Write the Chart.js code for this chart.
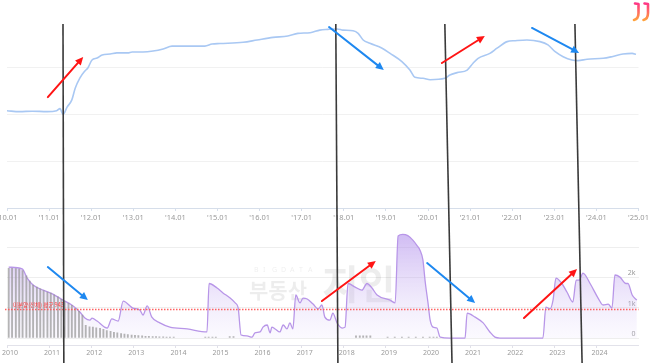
<!DOCTYPE html>
<html><head><meta charset="utf-8">
<script src="https://cdn.jsdelivr.net/npm/chart.js@4"></script>
<style>
html,body{margin:0;padding:0;background:#fff;overflow:hidden}
#wrap{position:relative;width:650px;height:363px}
#top{position:absolute;left:0;top:0}
#bot{position:absolute;left:0;top:230px}
#ov{position:absolute;left:0;top:0;pointer-events:none}
</style></head><body>
<div id="wrap">
<canvas id="top" width="650" height="230"></canvas>
<canvas id="bot" width="650" height="133"></canvas>
<canvas id="ov" width="650" height="363"></canvas>
</div>
<script>
// ---- top chart: price index (line) ----
const priceYears = [2010.00,2010.30,2010.60,2010.95,2011.18,2011.26,2011.33,2011.43,2011.54,2011.62,2011.73,2011.85,2011.92,2012.02,2012.14,2012.26,2012.45,2012.61,2012.87,2012.97,2013.23,2013.47,2013.71,2013.92,2014.28,2014.70,2014.87,2015.06,2015.61,2015.94,2016.32,2016.67,2016.91,2017.20,2017.43,2017.62,2017.84,2017.98,2018.22,2018.34,2018.46,2018.62,2018.91,2019.10,2019.38,2019.57,2019.69,2019.88,2020.05,2020.40,2020.52,2020.69,2020.93,2021.07,2021.19,2021.47,2021.64,2021.88,2022.07,2022.35,2022.66,2022.85,2023.02,2023.21,2023.42,2023.56,2023.78,2024.16,2024.37,2024.63,2024.85,2024.94];
const priceIndex = [81.4,81.0,81.2,81.0,81.4,82.3,79.8,83.0,86.0,91.0,95.3,98.3,99.6,103.0,103.8,105.1,105.5,106.0,106.0,106.4,106.4,106.8,107.7,108.9,108.9,108.9,109.8,110.0,110.5,111.5,112.6,113.2,114.3,114.6,115.7,116.0,116.2,115.7,115.4,114.3,111.5,110.1,108.0,105.8,102.3,98.7,95.6,95.2,94.6,95.2,96.6,97.6,98.7,101.6,103.7,105.8,108.0,110.8,111.2,111.5,110.8,109.4,106.5,104.4,103.0,102.7,103.3,103.7,104.4,105.5,105.8,105.4];
const topTickYears = [2010,2011,2012,2013,2014,2015,2016,2017,2018,2019,2020,2021,2022,2023,2024,2025];
const topTickLabels = ["'10.01","'11.01","'12.01","'13.01","'14.01","'15.01","'16.01","'17.01","'18.01","'19.01","'20.01","'21.01","'22.01","'23.01","'24.01","'25.01"];
const topGridValues = [60,80,100];

// ---- bottom chart: unsold housing ----
const unsoldYears = [2010.04,2010.36,2010.48,2010.62,2010.86,2011.09,2011.33,2011.54,2011.73,2011.85,2011.97,2012.02,2012.14,2012.38,2012.49,2012.64,2012.76,2012.99,2013.16,2013.23,2013.33,2013.44,2013.63,2013.87,2014.28,2014.75,2014.80,2014.99,2015.13,2015.30,2015.42,2015.49,2015.56,2015.70,2015.82,2015.89,2016.01,2016.08,2016.18,2016.25,2016.29,2016.37,2016.48,2016.56,2016.65,2016.72,2016.79,2016.86,2016.96,2017.03,2017.13,2017.27,2017.39,2017.48,2017.55,2017.67,2017.74,2017.84,2017.96,2018.03,2018.10,2018.27,2018.43,2018.55,2018.67,2018.79,2019.10,2019.22,2019.29,2019.40,2019.52,2019.64,2019.74,2019.81,2019.88,2019.93,2020.00,2020.05,2020.12,2020.21,2020.29,2020.52,2020.76,2020.88,2020.93,2021.12,2021.31,2021.47,2021.59,2021.71,2022.73,2022.80,2022.90,2022.97,2023.04,2023.18,2023.30,2023.44,2023.52,2023.59,2023.68,2023.85,2024.04,2024.16,2024.28,2024.37,2024.44,2024.56,2024.70,2024.75,2024.85,2024.96];
const unsoldCount = [2340,2280,1980,1750,1580,1450,1250,1090,860,660,590,660,560,330,630,560,1220,990,920,760,1060,690,500,360,300,200,1800,1650,1490,1320,1160,1000,100,70,30,170,200,360,430,170,360,300,200,430,300,500,300,1420,1160,1320,1290,1120,960,1090,690,590,820,500,330,360,1800,1680,1580,1800,1650,1420,1250,1160,3370,3420,3380,3230,3050,2900,2570,1900,1160,600,360,330,30,0,0,0,820,690,500,200,30,0,0,1020,960,1250,1980,1800,1520,1190,1910,1910,2140,1800,1320,1090,1120,990,2080,2010,1800,1800,1420,1250];
const completedYears = [2010.04,2010.12,2010.21,2010.29,2010.37,2010.46,2010.54,2010.62,2010.71,2010.79,2010.87,2010.96,2011.04,2011.12,2011.21,2011.29,2011.37,2011.46,2011.54,2011.62,2011.71,2011.79,2011.87,2011.96,2012.04,2012.12,2012.21,2012.29,2012.37,2012.46,2012.54,2012.62,2012.71,2012.79,2012.87,2012.96,2013.04,2013.12,2013.21,2013.29,2013.37,2013.46,2013.54,2013.62,2013.71,2013.79,2013.87,2013.96,2014.71,2014.79,2014.88,2014.96,2015.29,2015.38,2018.29,2018.38,2018.46,2018.54,2018.63,2019.04,2019.21,2019.38,2019.54,2019.71,2019.88,2020.04,2020.13,2020.21];
const completedCount = [2300,2300,2290,2280,2230,2050,1880,1750,1680,1620,1570,1520,1480,1430,1360,1280,1200,1150,1080,980,880,760,420,370,360,340,320,290,250,220,190,170,150,130,110,100,90,80,70,60,55,50,45,40,40,35,35,30,30,30,30,30,50,50,70,70,70,70,70,30,30,30,30,30,30,30,30,30];
const bottomTickYears = [2010,2011,2012,2013,2014,2015,2016,2017,2018,2019,2020,2021,2022,2023,2024];
const bottomTickLabels = ["2010","2011","2012","2013","2014","2015","2016","2017","2018","2019","2020","2021","2022","2023","2024"];
const yTickValues = [0,1000,2000,3000];
const yTickLabels = ["0","1k","2k",""];
const unsoldAverage = 943;
const averageLabel = "미분양(전체) 평균 943";

// ---- hand-drawn annotations (in data units) ----
const markerYearsTop = [2011.33,2017.81,2020.40,2023.49];
const markerYearsBottom = [2011.35,2017.86,2020.57,2023.66];
const markerTopValue = 118.3;
const topArrows = [
  {from:[2010.97,87.2], to:[2011.81,104.3], color:'#ff1414'},
  {from:[2017.65,117.0], to:[2018.95,98.7], color:'#1e88f0'},
  {from:[2020.33,101.7], to:[2021.35,113.2], color:'#ff1414'},
  {from:[2022.47,116.6], to:[2023.59,106.0], color:'#1e88f0'}
];
const bottomArrows = [
  {from:[2010.97,2343], to:[2011.92,1254], color:'#1e88f0'},
  {from:[2017.48,1221], to:[2018.76,2541], color:'#ff1414'},
  {from:[2019.98,2475], to:[2021.12,1155], color:'#1e88f0'},
  {from:[2022.28,660], to:[2023.54,2277], color:'#ff1414'}
];

Chart.defaults.font.family = "'Noto Sans', 'Noto Sans CJK KR', sans-serif";

const topChart = new Chart(document.getElementById('top'), {
  type:'line',
  data:{datasets:[{
    data: priceYears.map((x,i)=>({x, y:priceIndex[i]})),
    borderColor:'#a9c8f3', borderWidth:1.6, pointRadius:0, fill:false,
    cubicInterpolationMode:'monotone'
  }]},
  options:{
    responsive:false, animation:false, events:[],
    layout:{padding:{top:20,left:7,right:11.5,bottom:0}},
    plugins:{legend:{display:false},tooltip:{enabled:false}},
    scales:{
      x:{type:'linear', min:2010, max:2025, offset:false,
        afterBuildTicks:a=>{a.ticks = topTickYears.map(v=>({value:v}));},
        afterFit:a=>{a.height=22; a.paddingLeft=0; a.paddingRight=0;},
        ticks:{autoSkip:false, maxRotation:0, callback:(v,i)=>topTickLabels[i], font:{size:7.5}, color:'#9a9a9a', padding:2},
        grid:{drawOnChartArea:false, drawTicks:true, tickLength:3, color:'#d6deea', offset:false},
        border:{color:'#d6deea'}},
      y:{min:40, max:120,
        afterBuildTicks:a=>{a.ticks = topGridValues.map(v=>({value:v}));},
        afterFit:a=>{a.width=0;},
        ticks:{display:false},
        grid:{color:'#f1f1f1', drawTicks:false},
        border:{display:false}}
    }
  }
});

const watermark = {
  id:'watermark',
  beforeDatasetsDraw(chart){
    const c = chart.ctx, a = chart.chartArea;
    c.save();
    c.fillStyle = 'rgba(0,0,0,0.07)';
    c.font = "7px 'Noto Sans'";
    c.textBaseline = 'middle';
    const letters = 'BIGDATA';
    for (let i=0;i<letters.length;i++) c.fillText(letters[i], 254 + i*9, a.top + 38);
    c.font = "bold 21px 'Noto Sans CJK KR'";
    c.fillText('부동산', 249, a.top + 58);
    c.font = "bold 40px 'Noto Sans CJK KR'";
    c.fillText('지인', 322, a.top + 52);
    c.restore();
  }
};

const avgLine = {
  id:'avgLine',
  afterDatasetsDraw(chart){
    const c = chart.ctx, a = chart.chartArea;
    const y = Math.round(chart.scales.y.getPixelForValue(unsoldAverage)) + 0.5;
    c.save();
    c.strokeStyle = 'rgba(255,90,90,0.95)';
    c.lineWidth = 1.5;
    c.setLineDash([1.5,1.5]);
    c.beginPath(); c.moveTo(a.left-2, y); c.lineTo(a.right, y); c.stroke();
    c.setLineDash([]);
    c.fillStyle = '#ff4040';
    c.font = "5.5px 'Noto Sans CJK KR'";
    c.textBaseline = 'middle';
    c.fillText(averageLabel, a.left + 6, y - 5);
    c.restore();
  }
};

const botChart = new Chart(document.getElementById('bot'), {
  type:'line',
  data:{datasets:[
    {type:'bar', data: completedYears.map((x,i)=>({x, y:completedCount[i]})),
      backgroundColor:'rgba(150,150,150,0.7)', barThickness:1.2, order:1},
    {type:'line', data: unsoldYears.map((x,i)=>({x, y:unsoldCount[i]})),
      borderColor:'#b896e8', borderWidth:1.3, pointRadius:0, fill:'origin',
      cubicInterpolationMode:'monotone', order:2,
      backgroundColor:(ctx)=>{
        const ca = ctx.chart.chartArea;
        if(!ca) return 'rgba(190,160,240,0.3)';
        const g = ctx.chart.ctx.createLinearGradient(0, ca.top, 0, ca.bottom);
        g.addColorStop(0,'rgba(175,140,235,0.6)');
        g.addColorStop(0.5,'rgba(195,170,240,0.32)');
        g.addColorStop(1,'rgba(225,215,250,0.1)');
        return g;
      }}
  ]},
  options:{
    responsive:false, animation:false, events:[],
    layout:{padding:{top:2,left:7,right:11.5,bottom:0}},
    plugins:{legend:{display:false},tooltip:{enabled:false}},
    scales:{
      x:{type:'linear', min:2010, max:2025, offset:false,
        afterBuildTicks:a=>{a.ticks = bottomTickYears.map(v=>({value:v}));},
        afterFit:a=>{a.height=18; a.paddingLeft=0; a.paddingRight=0;},
        ticks:{autoSkip:false, maxRotation:0, labelOffset:3, callback:(v,i)=>bottomTickLabels[i], font:{size:7}, color:'#9a9a9a', padding:1},
        grid:{drawOnChartArea:false, drawTicks:true, tickLength:3, color:'#e0e0e8', offset:false},
        border:{color:'#e2e2ea'}},
      y:{position:'right', min:-230, max:3500,
        afterBuildTicks:a=>{a.ticks = yTickValues.map(v=>({value:v}));},
        afterFit:a=>{a.width=0;},
        ticks:{mirror:true, padding:-3, labelOffset:-4, callback:(v,i)=>yTickLabels[i], font:{size:7}, color:'#9a9a9a'},
        grid:{color:'#eeeeee', drawTicks:false},
        border:{display:false}}
    }
  },
  plugins:[watermark, avgLine]
});

function drawArrow(c, x1, y1, x2, y2, color){
  const ang = Math.atan2(y2-y1, x2-x1), L = 8, W = 3.8;
  const bx = x2 - L*Math.cos(ang), by = y2 - L*Math.sin(ang);
  c.strokeStyle = color; c.lineWidth = 2; c.lineCap = 'round';
  c.beginPath(); c.moveTo(x1,y1); c.lineTo(bx,by); c.stroke();
  c.fillStyle = color;
  c.beginPath(); c.moveTo(x2,y2);
  c.lineTo(bx + W*Math.sin(ang), by - W*Math.cos(ang));
  c.lineTo(bx - W*Math.sin(ang), by + W*Math.cos(ang));
  c.closePath(); c.fill();
}

function drawOverlay(){
  const cv = document.getElementById('ov');
  const c = cv.getContext('2d');
  const tx = topChart.scales.x, ty = topChart.scales.y;
  const bx = botChart.scales.x, by = botChart.scales.y;
  const OFF = 230;
  c.strokeStyle = '#3a3a3a'; c.lineWidth = 1.6;
  markerYearsTop.forEach((yr,i)=>{
    c.beginPath();
    c.moveTo(tx.getPixelForValue(yr), ty.getPixelForValue(markerTopValue));
    c.lineTo(bx.getPixelForValue(markerYearsBottom[i]), cv.height);
    c.stroke();
  });
  topArrows.forEach(a=>drawArrow(c, tx.getPixelForValue(a.from[0]), ty.getPixelForValue(a.from[1]), tx.getPixelForValue(a.to[0]), ty.getPixelForValue(a.to[1]), a.color));
  bottomArrows.forEach(a=>drawArrow(c, bx.getPixelForValue(a.from[0]), OFF+by.getPixelForValue(a.from[1]), bx.getPixelForValue(a.to[0]), OFF+by.getPixelForValue(a.to[1]), a.color));
  const g = c.createLinearGradient(0, 2, 0, 21);
  g.addColorStop(0,'#ff2e8c'); g.addColorStop(1,'#ffa53a');
  c.strokeStyle = g; c.lineWidth = 2.6; c.lineCap = 'round'; c.lineJoin = 'round';
  [638.5, 648].forEach(x=>{
    c.beginPath();
    c.moveTo(x-3.5, 3.5); c.lineTo(x, 4); c.lineTo(x, 13);
    c.quadraticCurveTo(x, 19, x-4.5, 20);
    c.stroke();
  });
}
drawOverlay();
</script>
</body></html>
